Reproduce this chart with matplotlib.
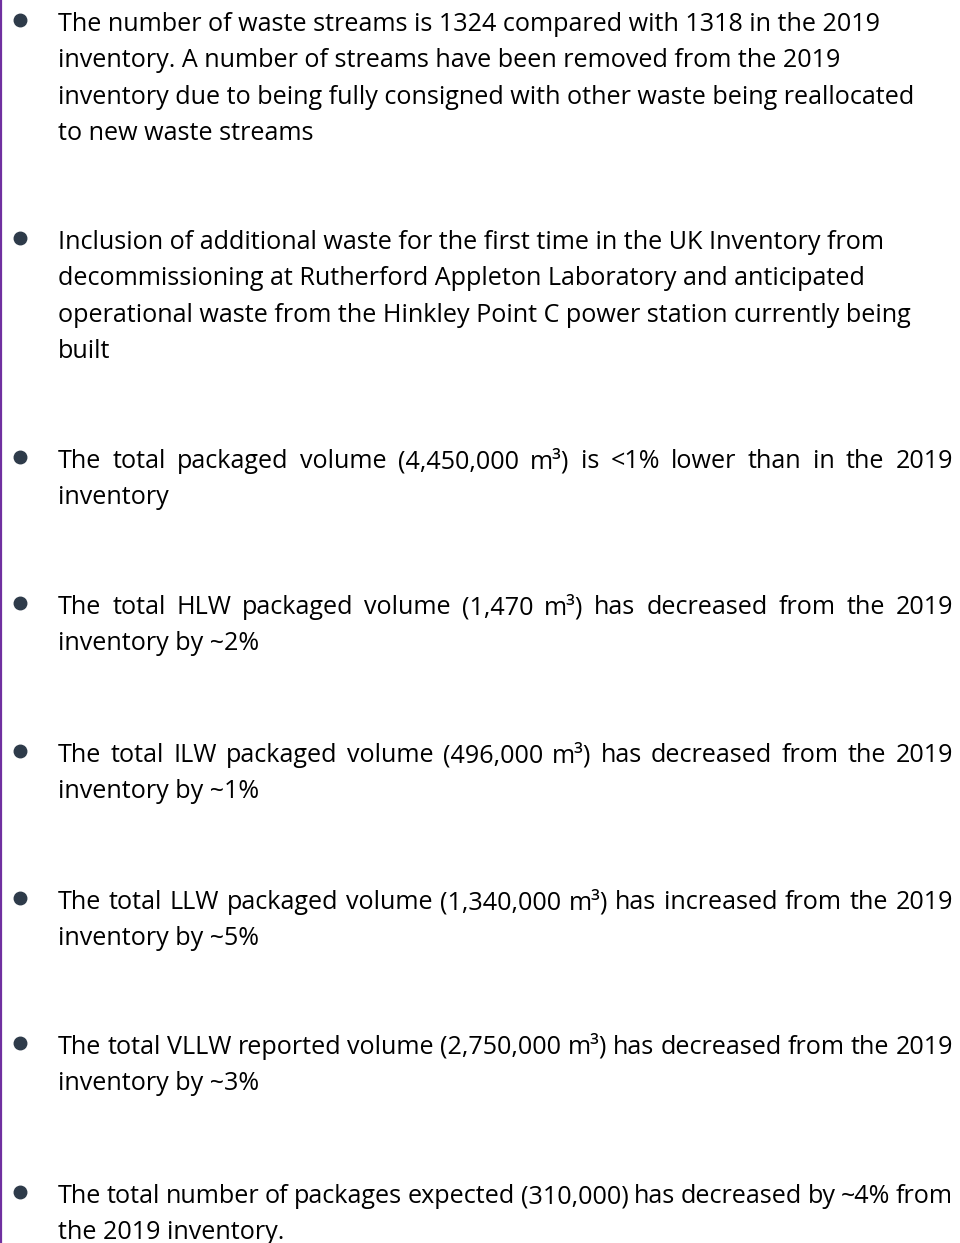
import matplotlib
matplotlib.use("Agg")
import matplotlib.pyplot as plt

# bullet text, already wrapped the way the reference wraps it
bullets = [
    ["The number of waste streams is 1324 compared with 1318 in the 2019",
     "inventory. A number of streams have been removed from the 2019",
     "inventory due to being fully consigned with other waste being reallocated",
     "to new waste streams"],
    ["Inclusion of additional waste for the first time in the UK Inventory from",
     "decommissioning at Rutherford Appleton Laboratory and anticipated",
     "operational waste from the Hinkley Point C power station currently being",
     "built"],
    ["The total packaged volume (4,450,000 m³) is <1% lower than in the 2019",
     "inventory"],
    ["The total HLW packaged volume (1,470 m³) has decreased from the 2019",
     "inventory by ~2%"],
    ["The total ILW packaged volume (496,000 m³) has decreased from the 2019",
     "inventory by ~1%"],
    ["The total LLW packaged volume (1,340,000 m³) has increased from the 2019",
     "inventory by ~5%"],
    ["The total VLLW reported volume (2,750,000 m³) has decreased from the 2019",
     "inventory by ~3%"],
    ["The total number of packages expected (310,000) has decreased by ~4% from",
     "the 2019 inventory."],
]
justified = [False, False, True, True, True, True, True, True]
bullet_y = [20, 238, 457, 603, 751, 898, 1043, 1192]

W, H = 960, 1243
fig = plt.figure(figsize=(W / 100, H / 100), dpi=100)
ax = fig.add_axes([0, 0, 1, 1])
ax.set_xlim(0, W)
ax.set_ylim(H, 0)
ax.axis("off")

# purple rule down the left edge
ax.axvline(1, color="#7030a0", lw=1.6)

font = dict(family=["Open Sans", "DejaVu Sans"], size=18.1, color="#000000")
x_text = 58
x_right = 953
line_h = 36.4

fig.canvas.draw()
renderer = fig.canvas.get_renderer()


def width_of(s):
    t = ax.text(0, 0, s, **font)
    w = t.get_window_extent(renderer).width
    t.remove()
    return w


for lines, just, y0 in zip(bullets, justified, bullet_y):
    ax.plot(20, y0, "o", color="#2e3b4a", markersize=9)
    for i, line in enumerate(lines):
        y = y0 + 11 + i * line_h
        if just and i < len(lines) - 1:
            words = line.split(" ")
            widths = [width_of(w) for w in words]
            gap = (x_right - x_text - sum(widths)) / (len(words) - 1)
            x = x_text
            for w, wd in zip(words, widths):
                ax.text(x, y, w, va="baseline", ha="left", **font)
                x += wd + gap
        else:
            ax.text(x_text, y, line, va="baseline", ha="left", **font)

fig.savefig("out.png", dpi=100)
